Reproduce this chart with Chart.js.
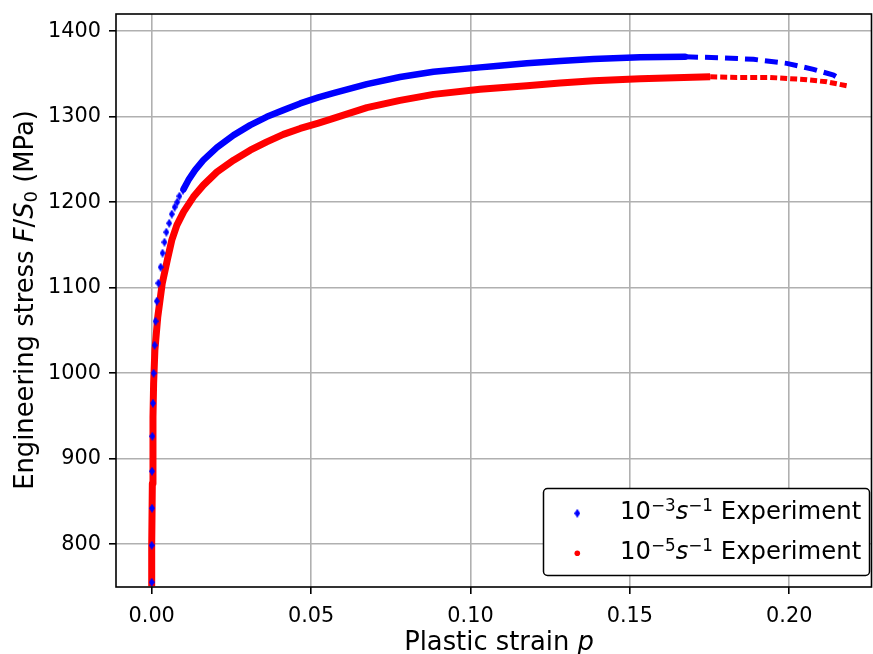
<!DOCTYPE html>
<html><head><meta charset="utf-8">
<script src="https://cdn.jsdelivr.net/npm/chart.js@4.4.1/dist/chart.umd.min.js"></script>
<style>html,body{margin:0;padding:0;background:#fff}</style>
</head><body>
<canvas id="c" width="873" height="654"></canvas>
<script>
// ---- tick labels ----
const xTicks = [0.00, 0.05, 0.10, 0.15, 0.20];
const yTicks = [800, 900, 1000, 1100, 1200, 1300, 1400];

// ---- 10^-3 s^-1 experiment (blue) ----
const blueEarlyStrain = [0.0000, 0.0000, 0.0001, 0.0001, 0.0002, 0.0004, 0.0006, 0.0009, 0.0012, 0.0016, 0.0021, 0.0028, 0.0034, 0.0040, 0.0046, 0.0055, 0.0063, 0.0072, 0.0080, 0.0087, 0.0098];
const blueEarlyStress = [755.6, 798.8, 842.1, 885.4, 926.3, 964.9, 1000.0, 1032.7, 1060.8, 1084.2, 1105.3, 1124.0, 1140.4, 1153.2, 1164.9, 1175.4, 1186.0, 1194.2, 1200.0, 1207.0, 1214.0];
const blueDenseStrain = [0.0100, 0.0115, 0.0136, 0.0162, 0.0205, 0.0257, 0.0309, 0.0361, 0.0413, 0.0466, 0.0523, 0.0570, 0.0675, 0.0779, 0.0884, 0.1030, 0.1072, 0.1177, 0.1281, 0.1386, 0.1532, 0.1673];
const blueDenseStress = [1215.2, 1225.7, 1237.4, 1249.1, 1264.0, 1278.4, 1290.1, 1299.8, 1307.6, 1315.4, 1322.5, 1327.5, 1338.0, 1346.3, 1352.4, 1357.6, 1359.0, 1362.3, 1365.0, 1367.3, 1369.3, 1370.0];
const blueTailStrain = [0.1673, 0.1783, 0.1888, 0.1992, 0.2076, 0.2139, 0.2165];
const blueTailStress = [1370.0, 1368.8, 1367.0, 1362.3, 1355.3, 1348.5, 1342.7];

// ---- 10^-5 s^-1 experiment (red) ----
const redDenseStrain = [0.0000, 0.0000, 0.0002, 0.0004, 0.0006, 0.0010, 0.0019, 0.0033, 0.0050, 0.0063, 0.0079, 0.0100, 0.0131, 0.0162, 0.0205, 0.0257, 0.0309, 0.0361, 0.0413, 0.0466, 0.0523, 0.0570, 0.0675, 0.0779, 0.0884, 0.1030, 0.1072, 0.1177, 0.1281, 0.1386, 0.1532, 0.1752];
const redDenseStress = [751.0, 798.8, 871.0, 948.9, 988.0, 1026.9, 1065.8, 1104.9, 1134.2, 1155.6, 1173.1, 1188.7, 1206.2, 1219.9, 1235.4, 1249.1, 1260.8, 1270.5, 1279.2, 1286.2, 1292.5, 1298.0, 1310.5, 1319.0, 1326.0, 1331.9, 1333.2, 1336.2, 1339.3, 1341.9, 1344.3, 1346.6];
const redTailStrain = [0.1752, 0.1836, 0.1940, 0.2045, 0.2118, 0.2186];
const redTailStress = [1346.6, 1345.8, 1345.8, 1343.5, 1340.7, 1335.7];

const seriesLabels = ['10^-3 s^-1 Experiment', '10^-5 s^-1 Experiment'];

const zip = (xs, ys) => xs.map((x, i) => ({x: x, y: ys[i]}));
const FAM = '"DejaVu Sans"';
const BLUE = '#0000ff', RED = '#ff0000';

const diamond = document.createElement('canvas');
diamond.width = 6; diamond.height = 9;
(function () {
  const g = diamond.getContext('2d');
  g.fillStyle = BLUE;
  g.beginPath(); g.moveTo(3, 0); g.lineTo(6, 4.5); g.lineTo(3, 9); g.lineTo(0, 4.5); g.closePath(); g.fill();
})();

const bgPlugin = {
  id: 'bg',
  beforeDraw(chart) {
    const c = chart.ctx; c.save(); c.fillStyle = '#fff'; c.fillRect(0, 0, chart.width, chart.height); c.restore();
  }
};

function drawPieces(c, pieces, x, y) {
  let cx = x;
  pieces.forEach(p => {
    c.font = p.f;
    c.fillText(p.t, cx, y + (p.dy || 0));
    cx += c.measureText(p.t).width;
  });
}
function piecesWidth(c, pieces) {
  let w = 0;
  pieces.forEach(p => { c.font = p.f; w += c.measureText(p.t).width; });
  return w;
}

const decoPlugin = {
  id: 'deco',
  afterDraw(chart) {
    const c = chart.ctx, a = chart.chartArea;
    c.save();
    c.strokeStyle = '#000'; c.lineWidth = 1.6;
    c.strokeRect(a.left, a.top, a.right - a.left, a.bottom - a.top);
    c.fillStyle = '#000';
    c.textBaseline = 'alphabetic'; c.textAlign = 'left';
    const T = '25.8px ' + FAM, TI = 'italic 25.8px ' + FAM;
    const xp = [{t: 'Plastic strain ', f: T}, {t: 'p', f: TI}];
    const xw = piecesWidth(c, xp);
    drawPieces(c, xp, 499 - xw / 2, 650);
    const yp = [{t: 'Engineering stress ', f: T}, {t: 'F', f: TI}, {t: '/', f: T}, {t: 'S', f: TI}, {t: '0', f: '18px ' + FAM, dy: 4}, {t: ' (MPa)', f: T}];
    const yw = piecesWidth(c, yp);
    c.save(); c.translate(33, 300); c.rotate(-Math.PI / 2);
    drawPieces(c, yp, -yw / 2, 0);
    c.restore();
    // legend
    c.beginPath();
    c.roundRect(543.5, 488.5, 326, 87, 4);
    c.fillStyle = '#fff'; c.fill();
    c.strokeStyle = '#000'; c.lineWidth = 1.5; c.stroke();
    c.drawImage(diamond, 577.3 - 3, 513.3 - 4.5);
    c.fillStyle = RED; c.beginPath(); c.arc(577.3, 553.3, 2.8, 0, Math.PI * 2); c.fill();
    c.fillStyle = '#000';
    const rows = [['\u22123', 519.3], ['\u22125', 559]];
    rows.forEach(r => {
      drawPieces(c, [
        {t: '10', f: '24.3px ' + FAM},
        {t: r[0], f: '16.8px ' + FAM, dy: -8.5},
        {t: 's', f: 'italic 24.3px ' + FAM},
        {t: '\u22121', f: '16.8px ' + FAM, dy: -8.5},
        {t: ' Experiment', f: '24.3px ' + FAM}
      ], 620, r[1]);
    });
    c.restore();
  }
};

const tickFont = {family: FAM, size: 20.8};
new Chart(document.getElementById('c'), {
  type: 'scatter',
  data: {
    datasets: [
      {label: seriesLabels[0], data: zip(blueEarlyStrain, blueEarlyStress), pointStyle: diamond, pointRadius: 4, showLine: false, backgroundColor: BLUE, borderColor: BLUE},
      {label: seriesLabels[0] + ' (dense)', data: zip(blueDenseStrain, blueDenseStress), showLine: true, pointRadius: 0, borderColor: BLUE, borderWidth: 6.5, borderJoinStyle: 'round', borderCapStyle: 'round'},
      {label: seriesLabels[0] + ' (tail)', data: zip(blueTailStrain, blueTailStress), showLine: true, pointRadius: 0, borderColor: BLUE, borderWidth: 5, borderDash: [13, 7]},
      {label: seriesLabels[1], data: zip(redDenseStrain, redDenseStress), showLine: true, pointRadius: 0, borderColor: RED, backgroundColor: RED, borderWidth: 7, borderJoinStyle: 'round'},
      {label: seriesLabels[1] + ' (tail)', data: zip(redTailStrain, redTailStress), showLine: true, pointRadius: 0, borderColor: RED, borderWidth: 5, borderDash: [7, 3]}
    ]
  },
  options: {
    responsive: false, animation: false, devicePixelRatio: 1,
    plugins: {legend: {display: false}, tooltip: {enabled: false}},
    layout: {autoPadding: false, padding: {left: 0, top: 14, right: 1.5, bottom: 0}},
    scales: {
      x: {
        type: 'linear', min: -0.0112, max: 0.2258,
        afterBuildTicks: s => { s.ticks = xTicks.map(v => ({value: v})); },
        afterFit: s => { s.height = 67; s.paddingLeft = 0; s.paddingRight = 0; },
        ticks: {callback: v => Number(v).toFixed(2), font: tickFont, color: '#000', padding: 10, maxRotation: 0, autoSkip: false},
        grid: {color: '#b0b0b0', lineWidth: 1.6, tickColor: '#000', tickLength: 7, tickWidth: 1.6},
        border: {display: false}
      },
      y: {
        type: 'linear', min: 750, max: 1420,
        afterBuildTicks: s => { s.ticks = yTicks.map(v => ({value: v})); },
        afterFit: s => { s.width = 116; s.paddingTop = 0; s.paddingBottom = 0; },
        ticks: {callback: v => String(v), font: tickFont, color: '#000', padding: 8, autoSkip: false},
        grid: {color: '#b0b0b0', lineWidth: 1.6, tickColor: '#000', tickLength: 7, tickWidth: 1.6},
        border: {display: false}
      }
    }
  },
  plugins: [bgPlugin, decoPlugin]
});
</script>
</body></html>
